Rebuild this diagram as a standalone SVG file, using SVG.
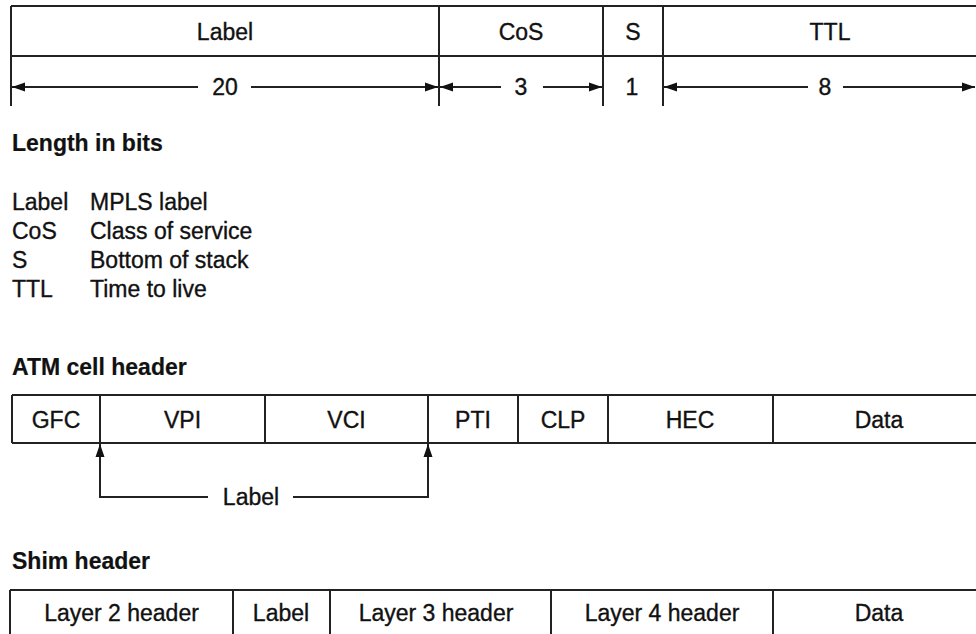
<svg xmlns="http://www.w3.org/2000/svg" width="976" height="634" viewBox="0 0 976 634">
<style>
  .ln{stroke:#222;stroke-width:2;fill:none}
  .t{font-family:"Liberation Sans",Arial,Helvetica,sans-serif;font-size:23px;fill:#111;stroke:#111;stroke-width:0.35}
  .c{text-anchor:middle}
  .b{font-weight:bold;stroke-width:0.2}
  .ar{stroke:#222;stroke-width:2;fill:none;marker-end:url(#ah)}
</style>
<defs>
  <marker id="ah" markerUnits="userSpaceOnUse" markerWidth="14" markerHeight="10" refX="13" refY="5" orient="auto">
    <path d="M0,0.5 L13,5 L0,9.5 Z" fill="#111"/>
  </marker>
</defs>
<rect width="976" height="634" fill="#fff"/>

<!-- MPLS label format -->
<g id="mpls-table">
  <line class="ln" x1="11" y1="6" x2="976" y2="6"/>
  <line class="ln" x1="11" y1="56" x2="976" y2="56"/>
  <g id="f-label">
    <line class="ln" x1="11" y1="6" x2="11" y2="106"/>
    <text class="t c" x="225" y="40">Label</text>
    <text class="t c" x="225" y="95">20</text>
  </g>
  <g id="f-cos">
    <line class="ln" x1="439" y1="6" x2="439" y2="106"/>
    <text class="t c" x="521" y="40">CoS</text>
    <text class="t c" x="521" y="95">3</text>
  </g>
  <g id="f-s">
    <line class="ln" x1="603" y1="6" x2="603" y2="106"/>
    <text class="t c" x="633" y="40">S</text>
    <text class="t c" x="632" y="95">1</text>
  </g>
  <g id="f-ttl">
    <line class="ln" x1="663" y1="6" x2="663" y2="106"/>
    <text class="t c" x="830" y="40">TTL</text>
    <text class="t c" x="825" y="95">8</text>
  </g>
</g>

<g id="connectors">
  <line class="ar" x1="198" y1="87" x2="12" y2="87"/>
  <line class="ar" x1="251" y1="87" x2="438" y2="87"/>
  <line class="ar" x1="501" y1="87" x2="440" y2="87"/>
  <line class="ar" x1="543" y1="87" x2="602" y2="87"/>
  <line class="ar" x1="808" y1="87" x2="664" y2="87"/>
  <line class="ar" x1="843" y1="87" x2="975" y2="87"/>
  <path class="ar" d="M208,497 H100 V444"/>
  <path class="ar" d="M293,497 H428 V444"/>
</g>

<!-- Legend -->
<g id="legend">
  <text class="t b" x="12" y="151">Length in bits</text>
  <text class="t" x="12" y="210">Label</text><text class="t" x="90" y="210">MPLS label</text>
  <text class="t" x="12" y="239">CoS</text><text class="t" x="90" y="239">Class of service</text>
  <text class="t" x="12" y="268">S</text><text class="t" x="90" y="268">Bottom of stack</text>
  <text class="t" x="12" y="297">TTL</text><text class="t" x="90" y="297">Time to live</text>
</g>

<!-- ATM cell header -->
<g id="atm">
  <text class="t b" x="12" y="375">ATM cell header</text>
  <line class="ln" x1="12" y1="395" x2="976" y2="395"/>
  <line class="ln" x1="12" y1="443" x2="976" y2="443" stroke="#333"/>
  <g id="atm-gfc"><line class="ln" x1="12" y1="395" x2="12" y2="443"/><text class="t c" x="56" y="428">GFC</text></g>
  <g id="atm-vpi"><line class="ln" x1="100" y1="395" x2="100" y2="443"/><text class="t c" x="182.5" y="428">VPI</text></g>
  <g id="atm-vci"><line class="ln" x1="265" y1="395" x2="265" y2="443"/><text class="t c" x="346.5" y="428">VCI</text></g>
  <g id="atm-pti"><line class="ln" x1="428" y1="395" x2="428" y2="443"/><text class="t c" x="473" y="428">PTI</text></g>
  <g id="atm-clp"><line class="ln" x1="518" y1="395" x2="518" y2="443"/><text class="t c" x="563" y="428">CLP</text></g>
  <g id="atm-hec"><line class="ln" x1="608" y1="395" x2="608" y2="443"/><text class="t c" x="690" y="428">HEC</text></g>
  <g id="atm-data"><line class="ln" x1="773" y1="395" x2="773" y2="443"/><text class="t c" x="879" y="428">Data</text></g>
  <g id="atm-label"><text class="t c" x="251" y="505">Label</text></g>
</g>

<!-- Shim header -->
<g id="shim">
  <text class="t b" x="12" y="569">Shim header</text>
  <line class="ln" x1="10" y1="590" x2="976" y2="590"/>
  <g id="shim-l2"><line class="ln" x1="10" y1="590" x2="10" y2="634"/><text class="t c" x="121.5" y="621">Layer 2 header</text></g>
  <g id="shim-label"><line class="ln" x1="233" y1="590" x2="233" y2="634"/><text class="t c" x="281" y="621">Label</text></g>
  <g id="shim-l3"><line class="ln" x1="330" y1="590" x2="330" y2="634"/><text class="t c" x="436" y="621">Layer 3 header</text></g>
  <g id="shim-l4"><line class="ln" x1="551" y1="590" x2="551" y2="634"/><text class="t c" x="662" y="621">Layer 4 header</text></g>
  <g id="shim-data"><line class="ln" x1="773" y1="590" x2="773" y2="634"/><text class="t c" x="879" y="621">Data</text></g>
</g>
</svg>
